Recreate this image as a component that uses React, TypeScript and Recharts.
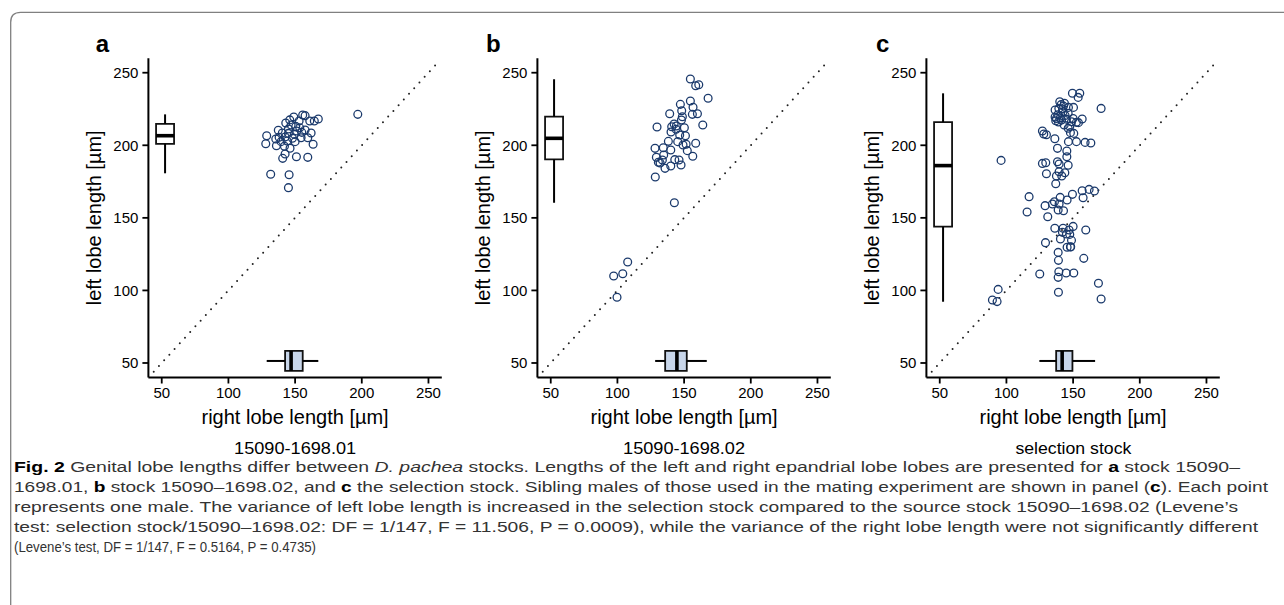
import React from 'react';
import { ScatterChart, Scatter, XAxis, YAxis, ReferenceArea, ReferenceLine } from 'recharts';

// ---------- data ----------
const panelLetters = ['a', 'b', 'c'];
const stockLabels = ['15090-1698.01', '15090-1698.02', 'selection stock'];
const axisTicks = [50, 100, 150, 200, 250];
const xTitle = 'right lobe length [µm]';
const yTitle = 'left lobe length [µm]';

// panel a: stock 15090-1698.01
const rightA = [128.7, 128, 131.7, 145.5, 145, 140.7, 142.5, 151, 159.5, 163.5, 149, 155.7, 157.5, 153, 161, 164.4, 167.4, 143, 147, 137.4, 145, 151.2, 157.5, 162, 135.5, 142.5, 148, 154.5, 159.5, 136, 142, 146.2, 139.5, 145, 155, 150, 140.4, 197, 146, 150.5, 153.5, 144, 138, 149.5];
const leftA = [206.6, 201.1, 180, 179.7, 170.8, 191, 194, 192.1, 191.7, 200.7, 219.5, 220.9, 220.4, 216.7, 216.7, 216.7, 218.1, 215.3, 214, 210.3, 211.2, 209.8, 210.5, 208.5, 204.3, 205.7, 204.8, 205.2, 205.2, 199.7, 199.3, 198, 202.5, 208.2, 208.9, 202.5, 208.5, 221.3, 217.5, 213, 212, 203, 205.5, 207.5];

// panel b: stock 15090-1698.02
const rightB = [154.7, 158.7, 161, 168, 154.7, 147.2, 156.7, 148.2, 139.2, 156.2, 160, 148.7, 148, 164, 129.7, 142.5, 144.2, 140.7, 150.2, 140.2, 146.7, 151, 138.2, 145.2, 151.5, 149.2, 158.7, 128.2, 134.4, 140, 152.4, 156.5, 129.2, 134.7, 130.7, 133.7, 143, 146.2, 135.7, 140, 147.7, 128.4, 142.7, 97.2, 104, 107.7, 99.7, 144, 132];
const leftB = [245.7, 241, 241.7, 232.4, 230.5, 228.2, 226.2, 223.8, 221.7, 221.3, 221.7, 219.7, 217.4, 214, 212.6, 214.7, 213.3, 212.8, 212.1, 209.1, 207.1, 206.6, 202.7, 202.5, 200.7, 200.2, 201.4, 197.9, 198.3, 196.7, 196.3, 192.4, 191.7, 193.3, 188.3, 189.9, 190.1, 189.9, 184.1, 185.7, 186.4, 178.1, 160.4, 109.9, 111.5, 119.6, 95.3, 211, 187.8];

// panel c: selection stock
const rightC = [149.5, 155, 153.8, 171, 140, 136.5, 139.3, 142.8, 146.5, 150.3, 142.5, 146.3, 137.5, 137, 141.3, 143.3, 148.8, 152.5, 156.8, 154, 146.3, 148, 150.5, 127, 128, 130, 136.3, 146.5, 152.5, 159, 163.3, 138.3, 145.3, 145.3, 96, 127, 129.5, 138.3, 139.5, 146.3, 130, 139.5, 143.8, 137.5, 141.5, 137, 162, 156.8, 166, 149.5, 117, 140.3, 157.5, 145.5, 136, 134.5, 129, 139.5, 138.8, 142.8, 115.5, 131, 136.3, 142.5, 142, 147, 150, 159.5, 147.5, 140.5, 148.8, 129.3, 145.5, 148, 138.8, 158, 139, 139.3, 144.8, 150.5, 125, 138.8, 169, 139, 171, 93.8, 89.5, 93, 138.5, 140.5, 144, 136.5, 139, 142, 145, 150, 147.5, 141, 143.5, 145, 148.2];
const leftC = [235.8, 235.8, 233, 225.4, 230, 224.3, 225.4, 227, 226.1, 226.1, 223.1, 222, 218.5, 216.9, 217.4, 214, 216.2, 215.8, 218.1, 215.6, 211.7, 208.7, 208.2, 209.8, 207.8, 207.3, 204.5, 202.5, 202.5, 202, 201.6, 197.9, 196, 192.1, 189.6, 187.5, 188, 188.7, 187.1, 186.2, 180.4, 181.8, 181.1, 178.8, 178.8, 173.5, 169.6, 168.7, 168.5, 166.2, 164.6, 164.1, 163.9, 162.3, 161.1, 159.5, 158.4, 159.5, 155.4, 154.9, 154, 150.8, 142.8, 142.8, 140, 141.6, 144.1, 141.6, 138.6, 135.4, 134.5, 132.9, 129.7, 129.9, 126.2, 122.1, 120.7, 112.9, 112, 112, 111.3, 109, 104.9, 98.7, 94.1, 100.7, 93.4, 92.3, 221, 219, 220.5, 219.5, 216, 225, 218, 218.5, 213, 228, 229, 138.9, 130.1];

// box statistics: [min, q1, median, q3, max]
const leftBoxA = [180.7, 201, 206.6, 214.7, 221.3];
const rightBoxA = [128.7, 142.5, 147, 155.7, 167.4];
const leftBoxB = [160.4, 190.3, 204.8, 219.7, 245.5];
const rightBoxB = [128.3, 135.8, 144.6, 152, 167];
const leftBoxC = [92.2, 143.9, 186, 216, 235.8];
const rightBoxC = [124.7, 137.3, 141.8, 149.5, 166.5];

const captionLines = [
  [['b', 'Fig. 2'], ['n', '  Genital lobe lengths differ between '], ['i', 'D. pachea'], ['n', ' stocks. Lengths of the left and right epandrial lobe lobes are presented for '], ['b', 'a'], ['n', ' stock 15090–']],
  [['n', '1698.01, '], ['b', 'b'], ['n', ' stock 15090–1698.02, and '], ['b', 'c'], ['n', ' the selection stock. Sibling males of those used in the mating experiment are shown in panel ('], ['b', 'c'], ['n', '). Each point']],
  [['n', 'represents one male. The variance of left lobe length is increased in the selection stock compared to the source stock 15090–1698.02 (Levene’s']],
  [['n', 'test: selection stock/15090–1698.02: DF = 1/147, F = 11.506, P = 0.0009), while the variance of the right lobe length were not significantly different']],
  [['n', '(Levene’s test, DF = 1/147, F = 0.5164, P = 0.4735)']],
];
const captionWidths = [1226, 1254, 1224, 1244, 302];

// ---------- layout constants ----------
const DOMAIN: [number, number] = [40, 260];
const DIAG: [number, number] = [44, 258];
const VBOX_X = 52.5;
const VBOX_HALF = 6.75;
const HBOX_Y = 51.4;
const HBOX_HALF = 6.9;
const chartLefts = [40, 428.95, 818.3];
const FONT = '"Liberation Sans", Arial, Helvetica, sans-serif';
const POINT_COLOR = '#1b3a6c';

const Circle = (props: any) => (
  <circle cx={props.cx} cy={props.cy} r={3.9} fill="none" stroke={POINT_COLOR} strokeWidth={1.3} />
);

function boxElements(leftBox: number[], rightBox: number[], key: string) {
  const [lmin, lq1, lmed, lq3, lmax] = leftBox;
  const [rmin, rq1, rmed, rq3, rmax] = rightBox;
  const line = { stroke: '#000', strokeWidth: 2, ifOverflow: 'visible' as const };
  return [
    <ReferenceLine key={key + 'v1'} segment={[{ x: VBOX_X, y: lmin }, { x: VBOX_X, y: lq1 }]} {...line} />,
    <ReferenceLine key={key + 'v2'} segment={[{ x: VBOX_X, y: lq3 }, { x: VBOX_X, y: lmax }]} {...line} />,
    <ReferenceLine key={key + 'h1'} segment={[{ x: rmin, y: HBOX_Y }, { x: rq1, y: HBOX_Y }]} {...line} />,
    <ReferenceLine key={key + 'h2'} segment={[{ x: rq3, y: HBOX_Y }, { x: rmax, y: HBOX_Y }]} {...line} />,
    <ReferenceArea key={key + 'vb'} x1={VBOX_X - VBOX_HALF} x2={VBOX_X + VBOX_HALF} y1={lq1} y2={lq3}
      fill="#ffffff" fillOpacity={1} stroke="#111" strokeWidth={1.8} ifOverflow="visible" />,
    <ReferenceArea key={key + 'hb'} x1={rq1} x2={rq3} y1={HBOX_Y - HBOX_HALF} y2={HBOX_Y + HBOX_HALF}
      fill="#c8d6ea" fillOpacity={1} stroke="#111" strokeWidth={1.8} ifOverflow="visible" />,
    <ReferenceLine key={key + 'vm'} segment={[{ x: VBOX_X - VBOX_HALF, y: lmed }, { x: VBOX_X + VBOX_HALF, y: lmed }]}
      stroke="#000" strokeWidth={3.6} ifOverflow="visible" />,
    <ReferenceLine key={key + 'hm'} segment={[{ x: rmed, y: HBOX_Y - HBOX_HALF }, { x: rmed, y: HBOX_Y + HBOX_HALF }]}
      stroke="#000" strokeWidth={3.6} ifOverflow="visible" />,
  ];
}

function Panel({ right, left, leftBox, rightBox, idx }: { right: number[]; left: number[]; leftBox: number[]; rightBox: number[]; idx: number }) {
  const data = right.map((x, i) => ({ x, y: left[i] }));
  const tickStyle = { fill: '#000', fontSize: 15, fontFamily: FONT };
  return (
    <div style={{ position: 'absolute', left: chartLefts[idx], top: 0 }}>
      <ScatterChart width={420} height={440} margin={{ top: 58.2, right: 18.2, bottom: 0, left: 48.4 }}>
        <XAxis type="number" dataKey="x" domain={DOMAIN} ticks={axisTicks} allowDataOverflow
          height={62.5} tickSize={6} tickMargin={4} tick={tickStyle}
          axisLine={{ stroke: '#000', strokeWidth: 2 }} tickLine={{ stroke: '#000', strokeWidth: 1.8 }}
          label={{ value: xTitle, position: 'insideBottom', offset: 16, fill: '#000', fontSize: 20, fontFamily: FONT }} />
        <YAxis type="number" dataKey="y" domain={DOMAIN} ticks={axisTicks} allowDataOverflow
          width={60} tickSize={6} tickMargin={4} tick={tickStyle}
          axisLine={{ stroke: '#000', strokeWidth: 2 }} tickLine={{ stroke: '#000', strokeWidth: 1.8 }}
          label={{ value: yTitle, angle: -90, position: 'insideLeft', offset: 6, fill: '#000', fontSize: 20, fontFamily: FONT, style: { textAnchor: 'middle' } }} />
        <ReferenceLine segment={[{ x: DIAG[0], y: DIAG[0] }, { x: DIAG[1], y: DIAG[1] }]}
          stroke="#222" strokeWidth={2} strokeDasharray="0 7.7" strokeLinecap="round" ifOverflow="visible" />
        {boxElements(leftBox, rightBox, 'p' + idx)}
        <Scatter data={data} shape={Circle} isAnimationActive={false} />
      </ScatterChart>
    </div>
  );
}

export default function App() {
  const plotCenters = chartLefts.map((l) => l + 108.4 + 146.7);
  const letterX = [95.7, 486, 876];
  return (
    <div style={{ position: 'absolute', left: 0, top: 0, width: 1284, height: 605, background: '#fff', overflow: 'hidden' }}>
      <svg width={1284} height={605} style={{ position: 'absolute', left: 0, top: 0 }}>
        <path d="M 10.7 605 L 10.7 22.3 Q 10.7 12.3 20.7 12.3 L 1284 12.3" fill="none" stroke="#808080" strokeWidth={1.3} />
        {panelLetters.map((t, i) => (
          <text key={t} x={letterX[i]} y={52} fontSize={24} fontWeight="bold" fontFamily={FONT} fill="#000">{t}</text>
        ))}
        {stockLabels.map((t, i) => (
          <text key={t} x={plotCenters[i]} y={454} fontSize={17} fontFamily={FONT} fill="#000" textAnchor="middle"
            textLength={[122, 122, 116][i]} lengthAdjust="spacingAndGlyphs">{t}</text>
        ))}
        {captionLines.map((parts, li) => (
          <text key={li} x={14} y={472 + li * 20} fontSize={15.5} fontFamily={FONT} fill="#333"
            textLength={captionWidths[li]} lengthAdjust="spacingAndGlyphs">
            {parts.map(([s, t], pi) => (
              <tspan key={pi} fontWeight={s === 'b' ? 'bold' : 'normal'} fontStyle={s === 'i' ? 'italic' : 'normal'}
                fill={s === 'b' ? '#000' : '#333'}>{t}</tspan>
            ))}
          </text>
        ))}
      </svg>
      {[0, 1, 2].map((i) => (
        <Panel key={i} idx={i}
          right={[rightA, rightB, rightC][i]} left={[leftA, leftB, leftC][i]}
          leftBox={[leftBoxA, leftBoxB, leftBoxC][i]} rightBox={[rightBoxA, rightBoxB, rightBoxC][i]} />
      ))}
    </div>
  );
}
